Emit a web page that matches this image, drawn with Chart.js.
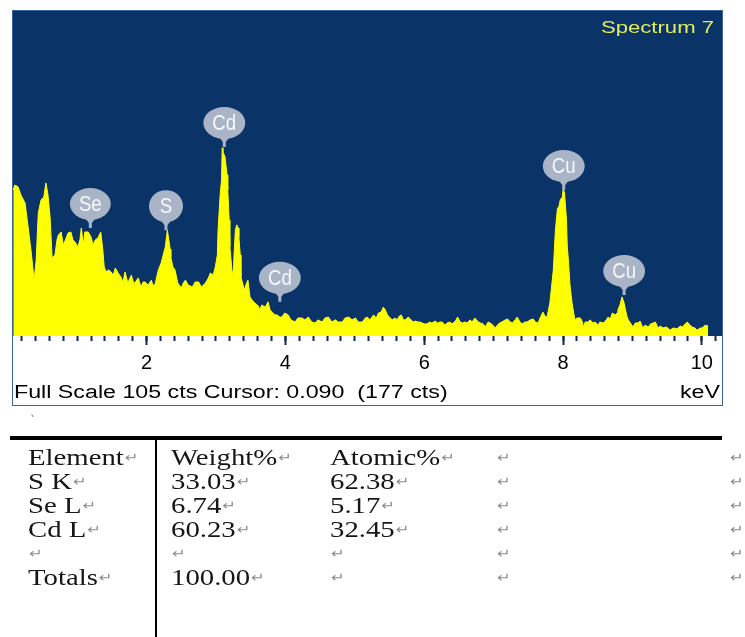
<!DOCTYPE html>
<html>
<head>
<meta charset="utf-8">
<title>Spectrum 7</title>
<script src="https://cdn.jsdelivr.net/npm/chart.js@4/dist/chart.umd.min.js"></script>
<style>
  html, body { margin: 0; padding: 0; background: #fff; width: 745px; height: 637px; overflow: hidden; }
  #plot { position: absolute; left: 0; top: 0; width: 745px; height: 410px; }
  #results { position: absolute; left: 0; top: 0; width: 745px; height: 637px;
             font-family: "Liberation Serif", "Times New Roman", serif; font-size: 23px; color: #161616; }
  .rule { position: absolute; background: #000; }
  .cell { position: absolute; white-space: nowrap; height: 24px; line-height: 24px;
          transform: scaleX(1.25); transform-origin: 0 50%; }
  .ret { font-family: "DejaVu Sans", sans-serif; font-size: 13px; color: #8c8c8c; margin-left: 1px; vertical-align: 3px; }
  .mark { position: absolute; left: 30px; top: 414px; font: 12px "DejaVu Sans", sans-serif; color: #777; }
</style>
</head>
<body>
<canvas id="plot" width="745" height="410"></canvas>
<div id="results">
  <div class="mark">`</div>
</div>
<script>
// ---- EDS spectrum (energy in keV, intensity in counts) ----
const energyKeV = [
  0.08,0.10,0.13,0.15,0.19,0.25,0.29,0.34,0.38,0.41,
  0.44,0.48,0.52,0.55,0.58,0.61,0.64,0.68,0.71,0.73,
  0.77,0.80,0.83,0.87,0.91,0.94,0.97,1.01,1.04,1.06,
  1.09,1.11,1.16,1.20,1.23,1.26,1.30,1.34,1.37,1.39,
  1.42,1.45,1.49,1.52,1.55,1.59,1.63,1.66,1.69,1.73,
  1.78,1.81,1.83,1.88,1.92,1.95,1.98,2.02,2.07,2.09,
  2.12,2.17,2.21,2.24,2.27,2.30,2.34,2.35,2.38,2.41,
  2.45,2.50,2.53,2.56,2.60,2.66,2.70,2.75,2.79,2.85,
  2.89,2.92,2.96,2.99,3.02,3.03,3.06,3.08,3.09,3.10,
  3.13,3.16,3.17,3.19,3.20,3.23,3.25,3.26,3.28,3.30,
  3.32,3.33,3.35,3.36,3.39,3.41,3.43,3.46,3.49,3.52,
  3.56,3.61,3.63,3.66,3.71,3.75,3.78,3.81,3.85,3.88,
  3.92,3.95,3.99,4.04,4.08,4.14,4.18,4.24,4.28,4.33,
  4.38,4.43,4.47,4.53,4.57,4.62,4.67,4.72,4.76,4.82,
  4.86,4.91,4.96,5.01,5.05,5.11,5.15,5.18,5.22,5.27,
  5.31,5.34,5.38,5.41,5.44,5.47,5.51,5.54,5.58,5.61,
  5.64,5.67,5.70,5.73,5.77,5.80,5.84,5.87,5.91,5.94,
  6.00,6.04,6.08,6.11,6.16,6.19,6.23,6.26,6.30,6.33,
  6.37,6.40,6.45,6.48,6.52,6.55,6.59,6.62,6.66,6.69,
  6.73,6.78,6.81,6.85,6.88,6.92,6.95,6.99,7.02,7.07,
  7.09,7.14,7.17,7.20,7.24,7.27,7.31,7.34,7.38,7.41,
  7.45,7.48,7.53,7.57,7.60,7.64,7.67,7.71,7.74,7.77,
  7.81,7.83,7.86,7.89,7.92,7.94,7.96,7.99,8.00,8.02,
  8.05,8.06,8.08,8.10,8.13,8.17,8.20,8.25,8.28,8.29,
  8.32,8.36,8.39,8.43,8.46,8.51,8.53,8.58,8.61,8.65,
  8.68,8.71,8.75,8.78,8.79,8.82,8.85,8.88,8.90,8.92,
  8.94,8.97,9.01,9.04,9.08,9.11,9.15,9.18,9.23,9.26,
  9.30,9.33,9.37,9.40,9.44,9.49,9.54,9.59,9.64,9.69,
  9.72,9.76,9.79,9.83,9.86,9.90,9.93,9.98,10.01,10.03,
  10.06,10.09
];
const counts = [
  47.0,48.6,48.3,48.0,45.4,42.8,35.8,26.7,18.0,24.5,
  39.6,43.8,44.8,49.3,45.4,38.3,25.1,26.1,31.0,32.5,
  33.5,29.3,30.9,33.2,33.5,30.9,30.3,28.7,31.0,34.8,
  29.3,33.5,33.5,31.9,29.3,30.9,31.6,33.5,27.7,22.2,
  20.6,21.3,20.6,19.6,21.9,20.3,19.0,17.4,20.6,17.1,
  19.6,17.4,17.1,18.7,15.8,17.4,17.4,16.4,18.0,16.4,
  16.4,21.3,23.5,26.1,28.7,34.1,28.0,25.4,22.2,21.3,
  17.1,15.5,17.1,18.0,16.4,15.8,17.4,17.4,15.8,17.1,
  18.7,20.3,19.6,22.2,26.1,34.1,45.4,50.2,60.6,59.3,
  57.7,51.9,47.0,37.4,28.7,21.3,19.0,26.1,34.1,35.8,
  34.8,31.9,26.1,19.0,16.4,14.8,16.4,18.0,12.6,11.6,
  10.6,9.7,8.4,10.0,9.3,11.0,8.4,7.7,6.8,6.8,
  6.1,6.1,7.4,6.8,5.2,4.5,5.8,5.8,5.2,6.1,
  4.5,4.2,5.2,4.5,5.8,6.1,4.5,5.2,4.5,4.5,
  5.8,6.1,5.2,5.8,4.5,4.5,5.8,6.1,5.2,6.8,
  5.8,7.4,7.7,9.3,8.4,6.8,5.8,5.2,5.8,5.2,
  6.4,6.8,5.2,5.2,6.1,5.5,4.5,4.8,4.5,4.5,
  3.9,3.9,4.5,4.2,4.8,4.2,4.5,4.5,3.5,4.2,
  4.5,3.9,4.8,6.1,4.5,4.2,4.5,4.2,5.2,4.5,
  5.8,4.5,4.2,3.9,2.9,4.5,4.2,3.5,2.6,3.9,
  4.2,4.8,5.2,5.5,4.5,4.2,5.2,6.1,4.5,3.9,
  4.5,4.5,5.2,5.5,4.5,4.2,5.8,7.7,6.4,6.1,
  10.6,14.8,21.3,34.1,41.2,41.6,43.8,44.8,47.0,46.4,
  37.4,29.3,23.5,16.4,10.6,5.2,5.8,5.8,4.5,2.9,
  4.5,4.5,5.2,4.2,4.5,3.5,4.5,4.2,4.8,6.1,
  5.5,7.4,6.8,7.4,8.4,10.0,12.6,10.6,8.4,6.4,
  5.2,4.2,2.9,4.2,4.2,4.8,2.6,3.5,2.9,3.9,
  4.2,4.5,2.6,3.2,2.6,2.9,1.9,2.6,2.3,3.2,
  2.9,3.9,4.5,3.5,2.9,2.6,1.9,2.6,2.6,3.2,
  3.5,3.2
];

// Element markers: name, line energy (keV) and the count level the pointer touches
const peakNames = ['Se', 'S', 'Cd', 'Cd', 'Cu', 'Cu'];
const peakKeV = [1.19, 2.28, 3.12, 3.92, 8.01, 8.88];
const peakTipCounts = [34.8, 34.1, 60.9, 11.0, 47.0, 13.2];

// Axis settings and status line
const spectrumName = 'Spectrum 7';
const fullScaleCounts = 105;
const axisMinKeV = 0.076;
const axisMaxKeV = 10.29;
const majorStepKeV = 2;
const minorStepKeV = 0.2;
const cursorKeV = '0.090';
const cursorCounts = 177;
const axisUnit = 'keV';

// Quantification table
const tableHeader = ['Element', 'Weight%', 'Atomic%', '', ''];
const tableElements = ['S K', 'Se L', 'Cd L', '', 'Totals'];
const tableWeight = ['33.03', '6.74', '60.23', '', '100.00'];
const tableAtomic = ['62.38', '5.17', '32.45', '', ''];

// ---- drawing ----
const NAVY = '#0a3467';
const YELLOW = '#ffff00';
const TICK = '#16254a';

function stretchedText(ctx, text, x, y, sx, align, baseline) {
  ctx.save();
  ctx.translate(x, y);
  ctx.scale(sx, 1);
  ctx.textAlign = align;
  ctx.textBaseline = baseline;
  ctx.fillText(text, 0, 0);
  ctx.restore();
}

function drawPeakLabel(ctx, name, px, tipY) {
  const h = 32, neck = 8, sx = 0.85;
  ctx.font = '22px "Liberation Sans", Arial, sans-serif';
  const tw = ctx.measureText(name).width * sx;
  const w = Math.max(34, tw + 18);
  const cy = tipY - neck - h / 2;
  ctx.fillStyle = '#a9b4c7';
  ctx.beginPath();
  ctx.ellipse(px, cy, w / 2, h / 2, 0, 0, Math.PI * 2);
  ctx.fill();
  ctx.beginPath();
  ctx.roundRect(px - w / 2 + 4, cy - h / 2 + 5, w - 8, h - 10, 8);
  ctx.fill();
  const b = cy + h / 2 - 1;
  ctx.beginPath();
  ctx.moveTo(px - 4.5, b);
  ctx.lineTo(px + 4.5, b);
  ctx.lineTo(px + 1.5, b + 4);
  ctx.lineTo(px + 1.5, tipY);
  ctx.lineTo(px - 1.5, tipY);
  ctx.lineTo(px - 1.5, b + 4);
  ctx.closePath();
  ctx.fill();
  ctx.fillStyle = '#f6f8fc';
  stretchedText(ctx, name, px, cy + 1, sx, 'center', 'middle');
}

const spectrumFrame = {
  id: 'spectrumFrame',
  beforeDraw(chart) {
    const { ctx, chartArea: a } = chart;
    ctx.save();
    ctx.fillStyle = NAVY;
    ctx.fillRect(a.left, a.top, a.right - a.left, a.bottom - a.top);
    ctx.restore();
  },
  afterDraw(chart) {
    const { ctx, chartArea: a, scales } = chart;
    ctx.save();
    // element markers
    peakNames.forEach((name, i) => {
      drawPeakLabel(ctx, name,
        scales.x.getPixelForValue(peakKeV[i]),
        scales.y.getPixelForValue(peakTipCounts[i]));
    });
    // spectrum name
    ctx.fillStyle = '#e2ec5e';
    ctx.font = '17px "Liberation Sans", Arial, sans-serif';
    stretchedText(ctx, spectrumName, a.right - 8, a.top + 18, 1.3, 'right', 'middle');
    // outer frame of the spectrum window
    const frameBottom = scales.xMajor.bottom;
    ctx.strokeStyle = '#3a64a0';
    ctx.lineWidth = 1;
    ctx.strokeRect(a.left - 0.5, a.top + 0.5, a.right - a.left + 1, frameBottom - a.top - 1);
    // status line
    ctx.fillStyle = '#000';
    ctx.font = '18px "Liberation Sans", Arial, sans-serif';
    const status = 'Full Scale ' + fullScaleCounts + ' cts Cursor: ' + cursorKeV + '  (' + cursorCounts + ' cts)';
    stretchedText(ctx, status, a.left + 1, frameBottom - 8, 1.29, 'left', 'alphabetic');
    stretchedText(ctx, axisUnit, a.right - 2, frameBottom - 8, 1.29, 'right', 'alphabetic');
    ctx.restore();
  }
};

new Chart(document.getElementById('plot'), {
  type: 'line',
  data: {
    datasets: [{
      data: energyKeV.map((e, i) => ({ x: e, y: counts[i] })),
      borderColor: YELLOW,
      backgroundColor: YELLOW,
      borderWidth: 1,
      fill: 'origin',
      pointRadius: 0,
      tension: 0
    }]
  },
  options: {
    responsive: false,
    animation: false,
    events: [],
    layout: { padding: { left: 13, top: 10, right: 23, bottom: 4 } },
    plugins: { legend: { display: false }, tooltip: { enabled: false }, title: { display: false } },
    scales: {
      x: {
        type: 'linear', position: 'bottom', weight: 0,
        min: axisMinKeV, max: axisMaxKeV,
        ticks: { stepSize: minorStepKeV, includeBounds: false, display: false },
        grid: { drawOnChartArea: false, drawTicks: true, tickLength: 5, tickWidth: 2, tickColor: TICK, color: TICK },
        border: { display: false },
        afterFit(s) { s.height = 0; }
      },
      xMajor: {
        type: 'linear', position: 'bottom', weight: 1,
        min: axisMinKeV, max: axisMaxKeV,
        ticks: {
          stepSize: majorStepKeV, includeBounds: false, autoSkip: false, maxRotation: 0,
          padding: 6, color: '#000',
          font: { family: '"Liberation Sans", Arial, sans-serif', size: 20 }
        },
        grid: { drawOnChartArea: false, drawTicks: true, tickLength: 9, tickWidth: 2, tickColor: TICK, color: TICK },
        border: { display: false },
        afterFit(s) { s.height = 70; }
      },
      y: { display: false, min: 0, max: fullScaleCounts }
    }
  },
  plugins: [spectrumFrame]
});

// ---- results table ----
const results = document.getElementById('results');
const colLeft = [28, 171, 330, 496, 729];
const rowTop = [446, 470, 494, 518, 542, 566];

function addRule(l, t, w, h) {
  const d = document.createElement('div');
  d.className = 'rule';
  Object.assign(d.style, { left: l + 'px', top: t + 'px', width: w + 'px', height: h + 'px' });
  results.appendChild(d);
}
function addCell(text, col, row) {
  const d = document.createElement('div');
  d.className = 'cell';
  d.style.left = colLeft[col] + 'px';
  d.style.top = rowTop[row] + 'px';
  d.appendChild(document.createTextNode(text));
  const r = document.createElement('span');
  r.className = 'ret';
  r.textContent = '\u21B5';
  d.appendChild(r);
  results.appendChild(d);
}
addRule(10, 436, 712, 4);
addRule(155, 440, 2, 197);
tableHeader.forEach((t, c) => addCell(t, c, 0));
tableElements.forEach((t, r) => {
  addCell(t, 0, r + 1);
  addCell(tableWeight[r], 1, r + 1);
  addCell(tableAtomic[r], 2, r + 1);
  addCell('', 3, r + 1);
  addCell('', 4, r + 1);
});
</script>
</body>
</html>
